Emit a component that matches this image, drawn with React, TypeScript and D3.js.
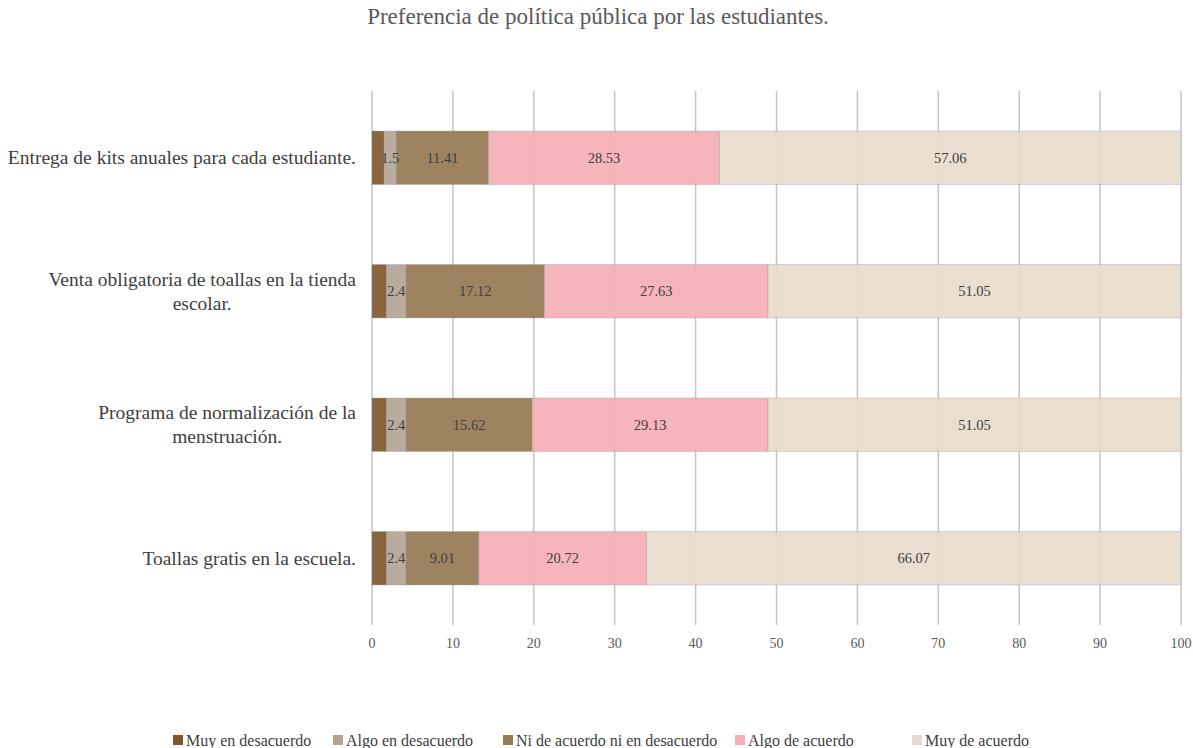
import React, { useEffect, useRef } from "react";
import * as d3 from "d3";

const categories: string[][] = [
  ["Entrega de kits anuales para cada estudiante."],
  ["Venta obligatoria de toallas en la tienda", "escolar."],
  ["Programa de normalización de la", "menstruación."],
  ["Toallas gratis en la escuela."],
];
const seriesNames = [
  "Muy en desacuerdo",
  "Algo en desacuerdo",
  "Ni de acuerdo ni en desacuerdo",
  "Algo de acuerdo",
  "Muy de acuerdo",
];
const muyEnDesacuerdo = [1.5, 1.8, 1.8, 1.8];
const algoEnDesacuerdo = [1.5, 2.4, 2.4, 2.4];
const niDeAcuerdo = [11.41, 17.12, 15.62, 9.01];
const algoDeAcuerdo = [28.53, 27.63, 29.13, 20.72];
const muyDeAcuerdo = [57.06, 51.05, 51.05, 66.07];
const seriesValues = [muyEnDesacuerdo, algoEnDesacuerdo, niDeAcuerdo, algoDeAcuerdo, muyDeAcuerdo];
const showLabels = [false, true, true, true, true];
const colors = ["#7f572c", "#b5a396", "#967853", "#f4afb4", "#e8dbcd"];
const xTicks = [0, 10, 20, 30, 40, 50, 60, 70, 80, 90, 100];
const title = "Preferencia de política pública por las estudiantes.";

const W = 1193;
const H = 748;
const FONT = "'Liberation Serif', 'Times New Roman', serif";

export default function App() {
  const ref = useRef<SVGSVGElement | null>(null);

  useEffect(() => {
    const svg = d3.select(ref.current!);
    svg.selectAll("*").remove();
    svg.style("font-family", FONT);

    const left = 372, right = 1181, top = 91, bottom = 625;
    const x = d3.scaleLinear().domain([0, 100]).range([left, right]);
    const y = d3
      .scaleBand<number>()
      .domain(categories.map((_, i) => i))
      .range([top, bottom])
      .paddingInner(0.6)
      .paddingOuter(0.3);

    // title
    svg.append("text")
      .attr("x", 598).attr("y", 24)
      .attr("text-anchor", "middle")
      .attr("font-size", 23)
      .attr("fill", "#595959")
      .text(title);

    // gridlines
    svg.append("g").selectAll("line").data(xTicks).join("line")
      .attr("x1", (d) => x(d)).attr("x2", (d) => x(d))
      .attr("y1", top).attr("y2", bottom)
      .attr("stroke", "#c4c4c4").attr("stroke-width", 1.5);

    // tick labels
    svg.append("g").selectAll("text").data(xTicks).join("text")
      .attr("x", (d) => x(d)).attr("y", 648)
      .attr("text-anchor", "middle")
      .attr("font-size", 14)
      .attr("fill", "#595959")
      .text((d) => String(d));

    // stacked bars
    const stackData = categories.map((_, i) => {
      const o: any = { i };
      seriesNames.forEach((s, k) => (o[s] = seriesValues[k][i]));
      return o;
    });
    const stacked = d3.stack<any>().keys(seriesNames)(stackData);
    const gBars = svg.append("g");
    stacked.forEach((layer, k) => {
      gBars.append("g").selectAll("rect").data(layer).join("rect")
        .attr("x", (d) => x(d[0]))
        .attr("width", (d) => x(d[1]) - x(d[0]))
        .attr("y", (d) => y(d.data.i)!)
        .attr("height", y.bandwidth())
        .attr("fill", colors[k])
        .attr("fill-opacity", 0.92)
        .attr("stroke", "rgba(150,150,150,0.35)")
        .attr("stroke-width", 1);
    });
    stacked.forEach((layer, k) => {
      if (!showLabels[k]) return;
      gBars.append("g").selectAll("text").data(layer).join("text")
        .attr("x", (d) => x((d[0] + d[1]) / 2))
        .attr("y", (d) => y(d.data.i)! + y.bandwidth() / 2 + 5)
        .attr("text-anchor", "middle")
        .attr("font-size", 14.5)
        .attr("fill", "#404040")
        .text((d) => String(seriesValues[k][d.data.i]));
    });

    // category labels
    const catG = svg.append("g");
    categories.forEach((lines, i) => {
      const g = catG.append("g");
      const cy = y(i)! + y.bandwidth() / 2;
      const lh = 24;
      const texts = lines.map((ln, j) =>
        g.append("text")
          .attr("y", cy + (j - (lines.length - 1) / 2) * lh + 6.5)
          .attr("font-size", 19.5)
          .attr("fill", "#404040")
          .attr("text-anchor", "middle")
          .text(ln)
      );
      const maxW = d3.max(texts, (t) => (t.node() as SVGTextElement).getComputedTextLength()) || 0;
      const cx = 356 - maxW / 2;
      texts.forEach((t) => t.attr("x", cx));
    });

    // legend (item start positions follow the reference layout)
    const legendStarts = [173, 333, 503, 735, 912];
    const leg = svg.append("g");
    seriesNames.forEach((name, k) => {
      const g = leg.append("g").attr("transform", `translate(${legendStarts[k]},740)`);
      g.append("rect").attr("x", 0).attr("y", -5).attr("width", 10).attr("height", 10).attr("fill", colors[k]);
      g.append("text").attr("x", 13).attr("y", 5.5).attr("font-size", 16)
        .attr("fill", "#404040").text(name);
    });
  }, []);

  return (
    <svg
      ref={ref}
      width={W}
      height={H}
      style={{ position: "fixed", left: 0, top: 0, display: "block", background: "#fff" }}
    />
  );
}
